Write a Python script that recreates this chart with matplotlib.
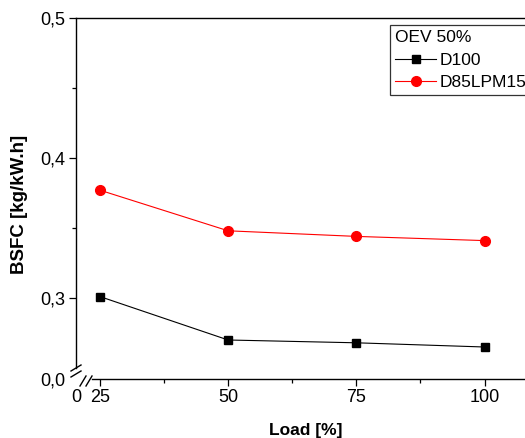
import matplotlib
matplotlib.use("Agg")
import matplotlib.pyplot as plt
from matplotlib.lines import Line2D

plt.rcParams['font.family'] = ['Liberation Sans', 'DejaVu Sans']

load = [25, 50, 75, 100]
d100 = [0.301, 0.270, 0.268, 0.265]
d85lpm15 = [0.377, 0.348, 0.344, 0.341]
x_ticks = [25, 50, 75, 100]
y_ticks = [0.3, 0.4, 0.5]
legend_title = "OEV 50%"
series_names = ["D100", "D85LPM15"]

W, H = 525, 438
fig = plt.figure(figsize=(W / 100, H / 100), dpi=100)

# axes in pixel terms
L, R, T, B = 76, 540, 18, 379
ax = fig.add_axes([L / W, (H - B) / H, (R - L) / W, (B - T) / H])

px_per_x = 128.3 / 25
xmin = 25 - (100 - L) / px_per_x
xmax = 100 + (R - 484.5) / px_per_x
ymin = 0.3 - (B - 298) / 1400
ymax = 0.5
ax.set_xlim(xmin, xmax)
ax.set_ylim(ymin, ymax)

ax.plot(load, d100, color='black', lw=0.8, marker='s', ms=5.5, mec='black', mfc='black', label=series_names[0])
ax.plot(load, d85lpm15, color='#ff0000', lw=0.8, marker='o', ms=7, mec='#ff0000', mfc='#ff0000', label=series_names[1])

# ticks (with broken-axis "0" labels at the corner)
ax.set_xticks([xmin] + x_ticks)
ax.set_xticklabels(['0'] + [str(v) for v in x_ticks])
ax.set_yticks([ymin] + y_ticks)
ax.set_yticklabels(['0,0'] + [f"{v:.1f}".replace('.', ',') for v in y_ticks])
ax.set_xticks([37.5, 62.5, 87.5], minor=True)
ax.set_yticks([0.35, 0.45], minor=True)
ax.tick_params(which='major', direction='out', length=5, width=0.9, labelsize=13, pad=2.5, top=False, right=False)
ax.tick_params(which='minor', direction='out', length=3, width=0.9, top=False, right=False)
ax.xaxis.get_major_ticks()[0].tick1line.set_visible(False)
ax.yaxis.get_major_ticks()[0].tick1line.set_visible(False)

for s in ['left', 'bottom', 'top']:
    ax.spines[s].set_linewidth(1.0)
ax.spines['right'].set_visible(False)
ax.spines['left'].set_bounds(0.3 - (368 - 298) / 1400, ymax)
ax.spines['bottom'].set_bounds(xmin + (92 - L) / px_per_x, xmax)

# break marks (pixel-based in axes fraction)
def frac(px, py):
    return ((px - L) / (R - L), (B - py) / (B - T))

def slash(cx, cy, dx, dy):
    a = frac(cx - dx, cy + dy)
    b = frac(cx + dx, cy - dy)
    ax.add_line(Line2D([a[0], b[0]], [a[1], b[1]], transform=ax.transAxes,
                       color='black', lw=1.0, clip_on=False))

slash(76, 368, 5, 3)
slash(76, 374, 5, 3)
slash(83, 381, 3, 5)
slash(89, 381, 3, 5)

ax.set_ylabel('BSFC [kg/kW.h]', fontsize=13.5, fontweight='bold')
ax.yaxis.set_label_coords((28 - L) / (R - L), (B - 204) / (B - T))
ax.set_xlabel('Load [%]', fontsize=12.5, fontweight='bold')
ax.xaxis.set_label_coords((306 - L) / (R - L), (B - 423) / (B - T))

leg = ax.legend(title=legend_title, title_fontsize=12.5, fontsize=12.5,
                loc='upper left', bbox_to_anchor=(390 / W, (H - 25) / H),
                bbox_transform=fig.transFigure, frameon=True, fancybox=False,
                borderpad=0.3, handlelength=2.35, handletextpad=0.2,
                labelspacing=0.42, borderaxespad=0, alignment='left')
leg.get_frame().set_edgecolor('black')
leg.get_frame().set_linewidth(0.9)

fig.savefig('out.png', dpi=100)
